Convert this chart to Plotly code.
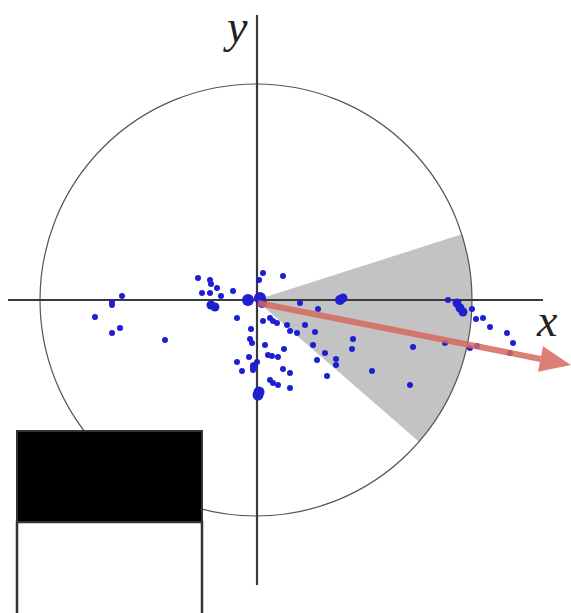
"""Direction sketch: scatter of points in a unit circle with a shaded wedge and
a direction arrow. Coordinates are in picture units, origin at circle centre,
y up, circle radius 216."""
import numpy as np
import plotly.graph_objects as go

# ── data ───────────────────────────────────────────────────────────────────
RADIUS = 216
WEDGE_FROM_DEG = -41.0
WEDGE_TO_DEG = 17.7
ARROW_DEG = -11.2
ARROW_LEN = 319

small_x = [-58, -46, -45, -39, -54, -46, -35, -23, 7, 3, 27, -19, -5, 7, 14, 17, 21,
           31, 34, 41, 49, 59, -6, -4, 9, 28, 12, 16, 22, -7, -19, 1, -3, -3, -14,
           27, 34, 14, 17, 22, 34, 71, 61, 80, 80, 69, 57, 97, 96, 44, 62, 116, 157,
           154, 189, 214, 221, 216, 220, 227, 234, 251, 257, 254, -134, -144, -144,
           -161, -136, -144, -91, 192]
small_y = [22, 20, 16, 12, 7, 7, 4, 9, 27, 20, 24, -18, -29, -21, -18, -21, -23,
           -25, -31, -33, -25, -32, -39, -43, -45, -49, -55, -56, -57, -57, -62, -62,
           -67, -70, -71, -69, -73, -80, -83, -85, -88, -76, -60, -59, -65, -53, -45,
           -39, -49, -3, -9, -71, -47, -85, -43, -48, -46, -9, -19, -18, -27, -33, -43,
           -53, 4, -2, -5, -17, -28, -33, -40, 0]

blob_x = [-45, -41, -8, 4, 6, 84, 87, 201, 204, 207, 3, 2, -2]
blob_y = [-5, -7, 0, 2, -3, 0, 2, -3, -8, -12, -92, -95, -66]
blob_s = [9, 9, 12, 12, 10, 10, 9, 9, 9, 9, 11, 11, 8]

POINT_COLOR = "#1f1fd2"

fig = go.Figure()

# ── shaded wedge ──────────────────────────────────────────────────────────
t = np.radians(np.linspace(WEDGE_FROM_DEG, WEDGE_TO_DEG, 60))
path = "M 0 0 " + " ".join(f"L {RADIUS*np.cos(a):.2f} {RADIUS*np.sin(a):.2f}" for a in t) + " Z"
fig.add_shape(type="path", path=path, fillcolor="#c3c3c3", line=dict(width=0), layer="below")

# ── circle ────────────────────────────────────────────────────────────────
fig.add_shape(type="circle", x0=-RADIUS, y0=-RADIUS, x1=RADIUS, y1=RADIUS,
              line=dict(color="#555555", width=1.2), layer="below")

# ── axes ──────────────────────────────────────────────────────────────────
fig.add_shape(type="line", x0=-248, y0=0, x1=287, y1=0,
              line=dict(color="#3a3a3a", width=2.2), layer="below")
fig.add_shape(type="line", x0=1, y0=285, x1=1, y1=-285,
              line=dict(color="#3a3a3a", width=2.2), layer="below")

# ── points ────────────────────────────────────────────────────────────────
fig.add_trace(go.Scatter(x=small_x, y=small_y, mode="markers",
                         marker=dict(size=6, color=POINT_COLOR, opacity=1, line=dict(width=0)),
                         hoverinfo="skip", showlegend=False))
fig.add_trace(go.Scatter(x=blob_x, y=blob_y, mode="markers",
                         marker=dict(size=blob_s, color=POINT_COLOR, opacity=1, line=dict(width=0)),
                         hoverinfo="skip", showlegend=False))

# ── direction arrow ───────────────────────────────────────────────────────
ARROW_COLOR = "rgba(214,104,96,0.85)"
ax0, ay0 = 2, -3
ang = np.radians(ARROW_DEG)
ux, uy = np.cos(ang), np.sin(ang)
tipx, tipy = ax0 + ARROW_LEN * ux, ay0 + ARROW_LEN * uy
head_len, head_w = 31, 13
bx, by = tipx - head_len * ux, tipy - head_len * uy
fig.add_shape(type="line", x0=ax0, y0=ay0, x1=bx, y1=by,
              line=dict(color=ARROW_COLOR, width=6), layer="above")
fig.add_shape(type="path",
              path=(f"M {tipx:.2f} {tipy:.2f} L {bx - head_w*uy:.2f} {by + head_w*ux:.2f} "
                    f"L {bx + head_w*uy:.2f} {by - head_w*ux:.2f} Z"),
              fillcolor=ARROW_COLOR, line=dict(width=0), layer="above")

# ── axis letters ──────────────────────────────────────────────────────────
LABEL_FONT = dict(family="Liberation Serif", size=46, color="#222222")
fig.add_annotation(x=-21, y=274, text="<i>y</i>", showarrow=False, font=LABEL_FONT)
fig.add_annotation(x=291, y=-20, text="<i>x</i>", showarrow=False, font=LABEL_FONT)

# ── black / white box ─────────────────────────────────────────────────────
fig.add_shape(type="rect", x0=-239, y0=-222, x1=-54, y1=-330,
              fillcolor="white", line=dict(color="#333333", width=2.5), layer="above")
fig.add_shape(type="rect", x0=-239, y0=-131, x1=-54, y1=-222,
              fillcolor="black", line=dict(color="#333333", width=2), layer="above")

fig.update_xaxes(range=[-256, 315], visible=False)
fig.update_yaxes(range=[-313, 300], visible=False)
fig.update_layout(width=571, height=613, margin=dict(l=0, r=0, t=0, b=0),
                  plot_bgcolor="white", paper_bgcolor="white", showlegend=False)

# the page body has a default 8 px margin; drop it so the figure fills the window
fig.write_html("out.html", config={"displayModeBar": False},
               post_script="document.body.style.margin='0';"
                           "document.body.style.overflow='hidden';")
